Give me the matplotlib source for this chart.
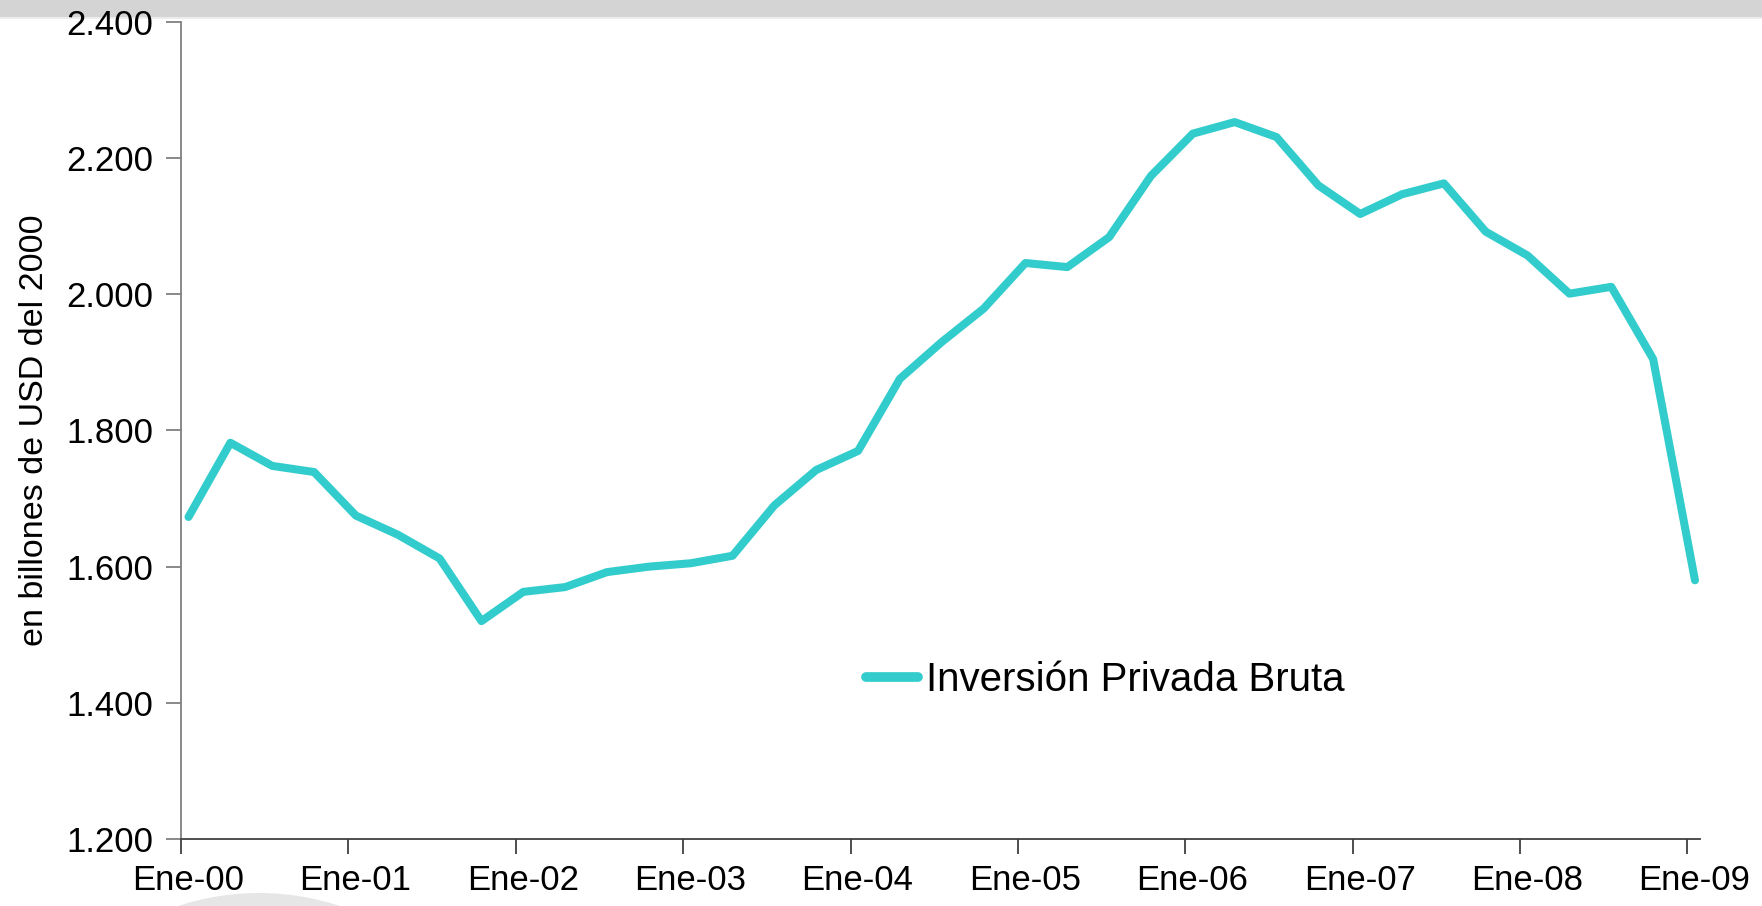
import matplotlib
matplotlib.use("Agg")
import matplotlib.pyplot as plt
from matplotlib.patches import Rectangle, Ellipse
from matplotlib.ticker import FuncFormatter, FixedLocator
from matplotlib.transforms import ScaledTranslation

plt.rcParams['font.family'] = ['Liberation Sans', 'DejaVu Sans']

tick_labels = ["Ene-00", "Ene-01", "Ene-02", "Ene-03", "Ene-04",
               "Ene-05", "Ene-06", "Ene-07", "Ene-08", "Ene-09"]
series_name = "Inversión Privada Bruta"
inversion = [1673, 1782, 1748, 1739, 1675, 1647, 1612, 1520, 1563, 1570,
             1592, 1600, 1605, 1616, 1690, 1742, 1770, 1876, 1930, 1979,
             2046, 2040, 2084, 2174, 2236, 2253, 2231, 2160, 2118, 2147,
             2163, 2092, 2057, 2001, 2011, 1905, 1580]
ylabel = "en billones de USD del 2000"

W, H = 1762, 906
fig = plt.figure(figsize=(W / 100, H / 100), dpi=100)
fig.patch.set_facecolor('white')

# top gray band
fig.add_artist(Rectangle((0, 1 - 17 / H), 1, 17 / H, transform=fig.transFigure,
                         facecolor='#d4d4d4', edgecolor='none', zorder=0))
fig.add_artist(Rectangle((0, 1 - 19 / H), 1, 2 / H, transform=fig.transFigure,
                         facecolor='#ececec', edgecolor='none', zorder=0))
# faint decorative arc bottom-left
fig.add_artist(Ellipse((259 / W, 1 - 1152 / H), 518 / W, 518 / H, transform=fig.transFigure,
                       facecolor='#e6e6e6', edgecolor='none', zorder=0))

left, right, top, bottom = 181, 1700, 22, 839
ax = fig.add_axes([left / W, 1 - bottom / H, (right - left) / W, (bottom - top) / H])
ax.set_facecolor('none')

x = [i + 0.18 for i in range(len(inversion))]
ax.plot(x, inversion, color='#33CCCC', lw=5.8, solid_joinstyle='round',
        solid_capstyle='round', label=series_name, zorder=3)

ax.set_xlim(0, 36.3)
ax.set_ylim(1200, 2400)
ax.xaxis.set_major_locator(FixedLocator([4 * i for i in range(len(tick_labels))]))
ax.set_xticklabels(tick_labels)
ax.set_yticks(range(1200, 2401, 200))
ax.yaxis.set_major_formatter(FuncFormatter(lambda v, p: f"{int(v):,}".replace(",", ".")))

for s in ['top', 'right']:
    ax.spines[s].set_visible(False)
ax.spines['left'].set_color('#808080')
ax.spines['bottom'].set_color('#404040')
ax.spines['left'].set_linewidth(1.3)
ax.spines['bottom'].set_linewidth(1.3)
ax.tick_params(axis='y', direction='out', length=11, width=1.3, color='#808080',
               labelsize=25, pad=9)
ax.tick_params(axis='x', direction='out', length=11, width=1.3, color='#404040',
               labelsize=25, pad=7)

off = ScaledTranslation(7 / 100, 0, fig.dpi_scale_trans)
for lab in ax.get_xticklabels():
    lab.set_transform(lab.get_transform() + off)

ax.set_ylabel(ylabel, fontsize=24.5, labelpad=12)

leg = ax.legend(loc='upper left', bbox_to_anchor=(0.427, 0.262), frameon=False,
                fontsize=29, handlelength=1.3, handletextpad=0.2)
for h in leg.get_lines():
    h.set_linewidth(7)
    h.set_solid_capstyle('round')

fig.savefig("out.png", dpi=100)
